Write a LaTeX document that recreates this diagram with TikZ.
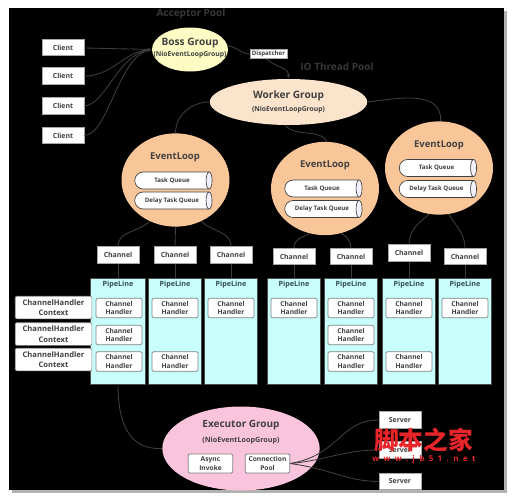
\documentclass[tikz,border=0pt]{standalone}
\usepackage{fontspec}
\setmainfont{Open Sans}
\newfontfamily\cjk{Noto Sans CJK SC}
\usetikzlibrary{positioning,arrows.meta,shapes.geometric,shapes.misc}
\definecolor{inkgray}{HTML}{404040}
\definecolor{wireray}{HTML}{3E3E3E}
\definecolor{bossfill}{HTML}{FFFBC4}
\definecolor{workerfill}{HTML}{FCE3CB}
\definecolor{loopfill}{HTML}{F9C699}
\definecolor{pipefill}{HTML}{C8FFFC}
\definecolor{execfill}{HTML}{F9C4DC}
\definecolor{markred}{HTML}{E8262A}
\tikzset{
  wire/.style={draw=wireray, line width=0.65pt},
  wirearrow/.style={wire, -{Latex[length=3pt,width=2.5pt]}},
  plainbox/.style={draw=gray!70, fill=white, line width=0.5pt, inner sep=0pt, minimum width=31.5pt, minimum height=12.4pt, font=\fontsize{5.2}{6}\selectfont\bfseries, text=inkgray},
  handler/.style={draw=gray, fill=white, rounded corners=1pt, line width=0.6pt, inner sep=0pt, minimum width=34.5pt, minimum height=14.6pt, align=center, font=\fontsize{5}{6.6}\selectfont\bfseries, text=inkgray},
  context/.style={draw=gray, fill=white, rounded corners=1pt, line width=0.5pt, inner sep=0pt, minimum width=57.5pt, minimum height=17pt, align=center, font=\fontsize{5.7}{8}\selectfont\bfseries, text=inkgray},
  pipeline/.style={draw=gray!60!black, fill=pipefill, line width=0.5pt, inner sep=0pt, minimum height=79.5pt},
  pipelabel/.style={font=\fontsize{5.4}{6}\selectfont\bfseries, text=inkgray!80!teal},
  eventloop/.style={ellipse, fill=loopfill, inner sep=0pt, minimum width=81pt, minimum height=70pt},
  queue/.style={rounded rectangle, rounded rectangle right arc=none, draw=inkgray, fill=white, line width=0.5pt, inner sep=0pt, minimum width=55.5pt, minimum height=12.8pt, font=\fontsize{4.6}{5}\selectfont\bfseries, text=inkgray},
  queueend/.style={ellipse, draw=inkgray, fill=blue!6, line width=0.5pt, inner sep=0pt, minimum width=4.5pt, minimum height=12.8pt},
  grouptitle/.style={font=\fontsize{7.6}{9}\selectfont\bfseries, text=inkgray},
  looptitle/.style={font=\fontsize{7.1}{9}\selectfont\bfseries, text=inkgray},
  groupsub/.style={font=\fontsize{5.1}{6}\selectfont\bfseries, text=inkgray},
  pooltitle/.style={font=\fontsize{7.5}{9}\selectfont\bfseries, text=black!78}
}
\begin{document}
\begin{tikzpicture}[x=0.75pt, y=-0.75pt]
  \useasboundingbox (0,0) rectangle (514,500);
  \fill[white] (0,0) rectangle (514,500);
  \fill[gray!60] (12,11) rectangle (507,493);
  \fill[black] (9,8) rectangle (504,490);

  % acceptor side
  \node[pooltitle] (acceptor) at (191,14) {Acceptor Pool};
  \node[ellipse, fill=bossfill, inner sep=0pt, minimum width=57pt, minimum height=33pt] (boss) at (190,49.5) {};
  \node[grouptitle] (bosstitle) at (190,43.5) {Boss Group};
  \node[groupsub] (bosssub) at (190,55) {(NioEventLoopGroup)};
  \node[plainbox] (clienta) at (63,47.5) {Client};
  \node[plainbox] (clientb) at (63,76) {Client};
  \node[plainbox] (clientc) at (63,106) {Client};
  \node[plainbox] (clientd) at (63,135.5) {Client};
  \node[plainbox, minimum width=27.5pt, minimum height=7pt, font=\fontsize{4.6}{5}\selectfont\bfseries] (dispatcher) at (268.5,54) {Dispatcher};

  % worker side
  \node[pooltitle] (iopool) at (337,67) {IO Thread Pool};
  \node[ellipse, fill=workerfill, inner sep=0pt, minimum width=118pt, minimum height=34.5pt] (worker) at (288.5,102) {};
  \node[grouptitle] (workertitle) at (288.5,96) {Worker Group};
  \node[groupsub] (workersub) at (288.5,110) {(NioEventLoopGroup)};

  \node[eventloop] (loopa) at (175.5,180) {};
  \node[eventloop] (loopb) at (325,188.5) {};
  \node[eventloop] (loopc) at (439,168) {};
  \node[looptitle] (loopatitle) at (175,157) {EventLoop};
  \node[looptitle] (loopbtitle) at (325,165.5) {EventLoop};
  \node[looptitle] (loopctitle) at (439,145) {EventLoop};
  \node[queue] (taska) at (172,180.5) {Task Queue\hspace{11pt}};
  \node[queue] (delaya) at (172,200.5) {Delay Task Queue\hspace{6pt}};
  \node[queue] (taskb) at (322,188.5) {Task Queue\hspace{11pt}};
  \node[queue] (delayb) at (322,209) {Delay Task Queue\hspace{6pt}};
  \node[queue] (taskc) at (436.5,168) {Task Queue\hspace{11pt}};
  \node[queue] (delayc) at (436.5,189) {Delay Task Queue\hspace{6pt}};
  \foreach \n in {taska,delaya,taskb,delayb,taskc,delayc}
    \node[queueend] (\n end) at (\n.east) {};

  % channels and pipelines
  \node[plainbox] (chana) at (118,255) {Channel};
  \node[plainbox] (chanb) at (175,255) {Channel};
  \node[plainbox] (chanc) at (231,255) {Channel};
  \node[plainbox] (chand) at (294,256.5) {Channel};
  \node[plainbox] (chane) at (351,256.5) {Channel};
  \node[plainbox] (chanf) at (409,253) {Channel};
  \node[plainbox] (chang) at (465,256.5) {Channel};

  \node[pipeline, minimum width=41.5pt] (pipea) at (117.5,331) {};
  \node[pipeline, minimum width=39.5pt] (pipeb) at (175,331) {};
  \node[pipeline, minimum width=39.5pt] (pipec) at (230.5,331) {};
  \node[pipeline, minimum width=39.5pt] (piped) at (293.5,331) {};
  \node[pipeline, minimum width=39.5pt] (pipee) at (351,331) {};
  \node[pipeline, minimum width=39.5pt] (pipef) at (409,331) {};
  \node[pipeline, minimum width=39.5pt] (pipeg) at (465,331) {};
  \foreach \n/\x in {a/118,b/175,c/231,d/294,e/351,f/409,g/465}
    \node[pipelabel] (label\n) at (\x,284.5) {PipeLine};
  \foreach \n in {a,b,c,d,e,f,g}
    \draw[wire] (chan\n) -- (pipe\n.north -| chan\n);

  \node[handler] (handaa) at (119,308) {Channel\\Handler};
  \node[handler] (handab) at (119,335) {Channel\\Handler};
  \node[handler] (handac) at (119,361.5) {Channel\\Handler};
  \node[handler] (handba) at (175,308) {Channel\\Handler};
  \node[handler] (handbc) at (175,361.5) {Channel\\Handler};
  \node[handler] (handca) at (231,308) {Channel\\Handler};
  \node[handler] (handda) at (294,308) {Channel\\Handler};
  \node[handler] (handea) at (351,308) {Channel\\Handler};
  \node[handler] (handeb) at (351,335) {Channel\\Handler};
  \node[handler] (handec) at (351,361.5) {Channel\\Handler};
  \node[handler] (handfa) at (409,308) {Channel\\Handler};
  \node[handler] (handfc) at (409,361.5) {Channel\\Handler};
  \node[handler] (handga) at (465,308) {Channel\\Handler};

  \node[context] (ctxa) at (53.5,307.5) {ChannelHandler\\Context};
  \node[context] (ctxb) at (53.5,334) {ChannelHandler\\Context};
  \node[context] (ctxc) at (53.5,359.5) {ChannelHandler\\Context};

  % executor side
  \node[ellipse, fill=execfill, inner sep=0pt, minimum width=118pt, minimum height=63pt] (executor) at (241,448.5) {};
  \node[grouptitle, font=\fontsize{7.5}{9}\selectfont\bfseries] (exectitle) at (241,425) {Executor Group};
  \node[groupsub, font=\fontsize{5.4}{6}\selectfont\bfseries] (execsub) at (241,441) {(NioEventLoopGroup)};
  \node[handler, minimum width=33.5pt, minimum height=14.2pt] (async) at (210.5,463.5) {Async\\Invoke};
  \node[handler, minimum width=33.5pt, minimum height=14.2pt] (connpool) at (267.5,463.5) {Connection\\Pool};
  \node[plainbox] (servera) at (400,420) {Server};
  \node[plainbox] (serverb) at (400,450) {Server};
  \node[plainbox] (serverc) at (400,481.5) {Server};

  % connectors
  \draw[wirearrow] (clienta) -- (boss.180);
  \draw[wirearrow] (clientb.east) to[out=0, in=185] (boss.180);
  \draw[wirearrow] (clientc.east) .. controls (105,105) and (118,55) .. (boss.180);
  \draw[wirearrow] (clientd.east) .. controls (108,135) and (118,58) .. (boss.180);
  \draw[wire] (boss.5) to[out=0, in=180] (dispatcher.west);
  \draw[wirearrow] (dispatcher.250) to[out=-45, in=90] (worker.north);
  \draw[wire] (worker.180) to[out=180, in=90] (loopa.north);
  \draw[wire] (worker.262) .. controls (296,138) and (320,128) .. (loopb.88);
  \draw[wire] (worker.0) .. controls (400,98) and (442,90) .. (loopc.88);
  \draw[wire] (loopa.238) to[out=225, in=90] (chana.north);
  \draw[wire] (loopa.south) -- (chanb.north);
  \draw[wire] (loopa.302) to[out=-45, in=90] (chanc.north);
  \draw[wire] (loopb.252) to[out=200, in=90] (chand.north);
  \draw[wire] (loopb.290) to[out=-30, in=90] (chane.north);
  \draw[wire] (loopc.258) to[out=220, in=90] (chanf.north);
  \draw[wire] (loopc.282) to[out=-60, in=90] (chang.north);
  \draw[wire] (pipea.south -| chana) .. controls (118,425) and (130,450) .. (executor.180);
  \draw[wire] (connpool.east) .. controls (340,455) and (340,420) .. (servera.west);
  \draw[wire] (connpool.east) to[out=5, in=180] (serverb.west);
  \draw[wire] (connpool.east) .. controls (335,470) and (345,481) .. (serverc.west);

  % site mark
  \node[text=markred, font=\cjk\fontsize{18.5}{20}\selectfont\bfseries] (markname) at (423.5,440) {脚本之家};
  \node[text=markred, font=\fontsize{6}{7}\selectfont\bfseries\addfontfeature{LetterSpace=55}] (markurl) at (424,459.5) {www.jb51.net};
\end{tikzpicture}
\end{document}
